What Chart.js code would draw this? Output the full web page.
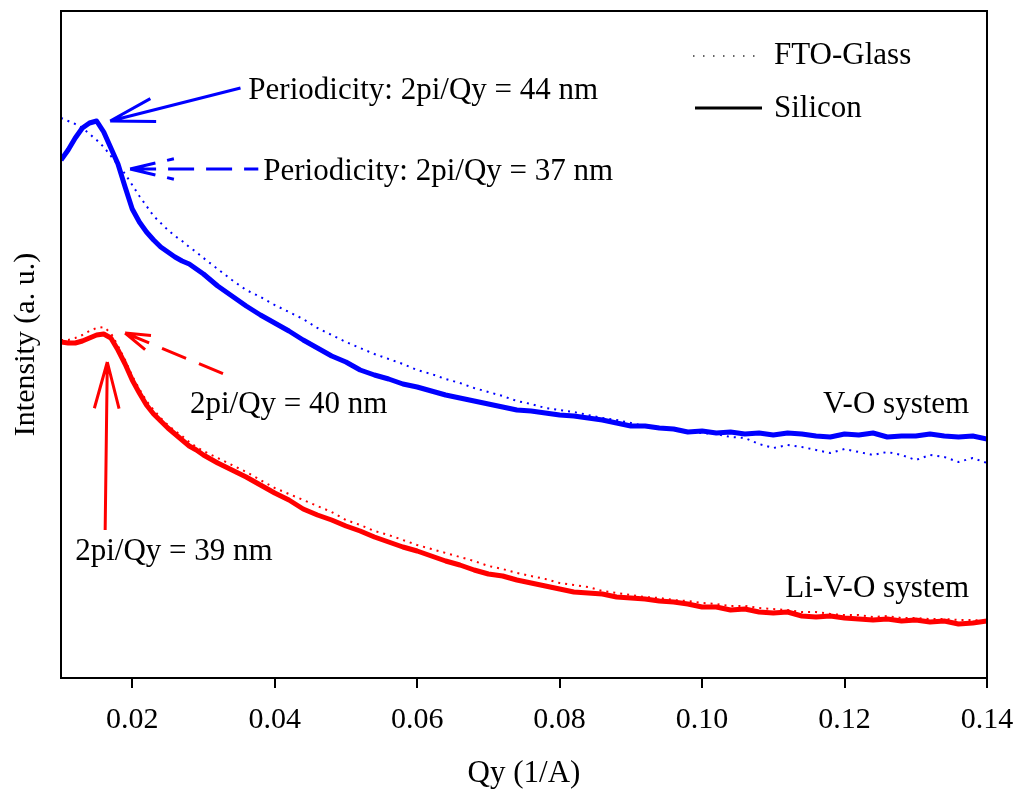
<!DOCTYPE html>
<html>
<head>
<meta charset="utf-8">
<title>Qy - V-O / Li-V-O</title>
<script src="https://cdn.jsdelivr.net/npm/chart.js@4.4.1/dist/chart.umd.min.js"></script>
<style>
  html, body { margin: 0; padding: 0; background: #fff; }
  #graphe { display: block; }
</style>
</head>
<body>
<canvas id="graphe" width="1017" height="792"></canvas>
<script>
//-------------------------------------Données-------------------------------------
const qy = [
  0.010, 0.011, 0.012, 0.013, 0.014, 0.015, 0.016, 0.017, 0.018, 0.019, 0.020,
  0.021, 0.022, 0.023, 0.024, 0.025, 0.026, 0.027, 0.028, 0.029, 0.030,
  0.032, 0.034, 0.036, 0.038, 0.040, 0.042, 0.044, 0.046, 0.048, 0.050,
  0.052, 0.054, 0.056, 0.058, 0.060, 0.062, 0.064, 0.066, 0.068, 0.070,
  0.072, 0.074, 0.076, 0.078, 0.080, 0.082, 0.084, 0.086, 0.088, 0.090,
  0.092, 0.094, 0.096, 0.098, 0.100, 0.102, 0.104, 0.106, 0.108, 0.110,
  0.112, 0.114, 0.116, 0.118, 0.120, 0.122, 0.124, 0.126, 0.128, 0.130,
  0.132, 0.134, 0.136, 0.138, 0.140
];

// V-O system
const voSilicon = [
  518, 528, 540, 550, 555, 557, 546, 530, 514, 491, 469,
  456, 446, 438, 431, 426, 421, 417, 414, 409, 404,
  392, 382, 372, 363, 355, 347, 338, 330, 322, 316,
  308, 303, 299, 294, 291, 287, 283, 280, 277, 274,
  271, 268, 267, 265, 263, 262, 260, 258, 255, 252,
  252, 250, 249, 246, 247, 245, 246, 244, 245, 243,
  245, 244, 242, 241, 244, 243, 245, 241, 242, 242,
  244, 242, 241, 242, 239
];
const voFto = [
  560, 557, 554, 550, 544, 538, 531, 522, 513, 504, 493,
  482, 472, 462, 455, 448, 442, 437, 431, 426, 420,
  409, 398, 388, 381, 373, 366, 359, 350, 343, 336,
  330, 324, 319, 314, 308, 304, 299, 295, 290, 286,
  282, 277, 274, 270, 268, 266, 263, 260, 258, 255,
  252, 250, 248, 246, 245, 244, 241, 240, 234, 230,
  233, 231, 228, 225, 229, 226, 223, 226, 223, 218,
  223, 221, 216, 220, 215
];

// Li-V-O system
const livoSilicon = [
  336, 335, 335, 337, 340, 343, 344, 340, 328, 314, 298,
  285, 273, 264, 257, 250, 244, 238, 232, 228, 223,
  215, 208, 201, 193, 185, 178, 169, 163, 158, 152,
  147, 141, 136, 131, 127, 122, 117, 113, 108, 104,
  102, 98, 95, 92, 89, 86, 85, 84, 81, 80,
  79, 77, 76, 74, 71, 71, 68, 69, 66, 65,
  66, 62, 61, 62, 60, 59, 58, 59, 57, 58,
  56, 57, 54, 55, 57
];
const livoFto = [
  338, 338, 340, 343, 347, 350, 351, 345, 332, 318, 302,
  289, 277, 268, 260, 253, 247, 242, 236, 231, 227,
  220, 213, 206, 198, 190, 184, 178, 172, 166, 158,
  153, 147, 143, 138, 133, 129, 125, 121, 117, 112,
  109, 105, 102, 99, 95, 93, 91, 87, 85, 83,
  81, 80, 78, 77, 75, 74, 72, 72, 70, 69,
  68, 66, 66, 64, 63, 63, 61, 62, 60, 60,
  59, 59, 58, 58, 57
];

const xTicks = [0.02, 0.04, 0.06, 0.08, 0.10, 0.12, 0.14];

//-------------------------------------Annotations-------------------------------------
const POLICE = "31px 'Liberation Serif', 'Times New Roman', serif";
const BLEU = '#0000ff';
const ROUGE = '#ff0000';

// flèches : de (queue) -> vers (pointe), en unités des axes
const fleches = [
  { de: [0.0352, 590], vers: [0.0169, 557], couleur: BLEU, tirets: [], pointe: 46, angle: 0.26 },
  { de: [0.0377, 509], vers: [0.0197, 509], couleur: BLEU, tirets: [26, 12], pointe: 45, angle: 0.23 },
  { de: [0.0342, 300], vers: [0.0190, 345], couleur: ROUGE, tirets: [26, 14], pointe: 40, angle: 0.3 },
  { de: [0.0162, 148], vers: [0.0165, 316], couleur: ROUGE, tirets: [], pointe: 48, angle: 0.26 }
];

const textes = [
  { texte: 'Periodicity: 2pi/Qy = 44 nm', x: 0.0363, y: 587, align: 'left' },
  { texte: 'Periodicity: 2pi/Qy = 37 nm', x: 0.0384, y: 506, align: 'left' },
  { texte: '2pi/Qy = 40 nm', x: 0.0281, y: 273, align: 'left' },
  { texte: '2pi/Qy = 39 nm', x: 0.0120, y: 126, align: 'left' },
  { texte: 'V-O system', x: 0.1375, y: 273, align: 'right' },
  { texte: 'Li-V-O system', x: 0.1375, y: 89, align: 'right' }
];

function dessinerFleche(ctx, x0, y0, x1, y1, f) {
  const ang = Math.atan2(y0 - y1, x0 - x1);
  ctx.strokeStyle = f.couleur;
  ctx.lineWidth = 3;
  ctx.lineCap = 'butt';
  ctx.setLineDash(f.tirets);
  ctx.beginPath();
  ctx.moveTo(x1, y1);
  ctx.lineTo(x0, y0);
  for (const s of [-1, 1]) {
    ctx.moveTo(x1, y1);
    ctx.lineTo(x1 + f.pointe * Math.cos(ang + s * f.angle), y1 + f.pointe * Math.sin(ang + s * f.angle));
  }
  ctx.stroke();
  ctx.setLineDash([]);
}

const annotations = {
  id: 'annotations',
  afterDatasetsDraw(chart) {
    const { ctx, chartArea: a, scales: { x, y } } = chart;
    ctx.save();

    // cadre
    ctx.strokeStyle = '#000';
    ctx.lineWidth = 2;
    ctx.strokeRect(a.left, a.top, a.right - a.left, a.bottom - a.top);

    fleches.forEach(f => dessinerFleche(ctx,
      x.getPixelForValue(f.de[0]), y.getPixelForValue(f.de[1]),
      x.getPixelForValue(f.vers[0]), y.getPixelForValue(f.vers[1]), f));

    ctx.font = POLICE;
    ctx.fillStyle = '#000';
    ctx.textBaseline = 'middle';
    textes.forEach(t => {
      ctx.textAlign = t.align;
      ctx.fillText(t.texte, x.getPixelForValue(t.x), y.getPixelForValue(t.y));
    });

    // légende
    ctx.textAlign = 'left';
    ctx.strokeStyle = '#333';
    ctx.lineWidth = 1.5;
    ctx.setLineDash([1.5, 8.5]);
    ctx.beginPath();
    ctx.moveTo(a.left + 632, a.top + 45);
    ctx.lineTo(a.left + 697, a.top + 45);
    ctx.stroke();
    ctx.setLineDash([]);
    ctx.strokeStyle = '#000';
    ctx.lineWidth = 3;
    ctx.beginPath();
    ctx.moveTo(a.left + 634, a.top + 97);
    ctx.lineTo(a.left + 701, a.top + 97);
    ctx.stroke();
    ctx.fillText('FTO-Glass', a.left + 713, a.top + 45);
    ctx.fillText('Silicon', a.left + 713, a.top + 98);

    ctx.restore();
  }
};

//-------------------------------------Graphique-------------------------------------
const points = valeurs => qy.map((q, i) => ({ x: q, y: valeurs[i] }));
const famille = "'Liberation Serif', 'Times New Roman', serif";

new Chart(document.getElementById('graphe').getContext('2d'), {
  type: 'line',
  data: {
    datasets: [
      { label: 'V-O FTO-Glass', data: points(voFto), borderColor: BLEU, borderWidth: 2, borderDash: [2, 5], order: 2 },
      { label: 'V-O Silicon', data: points(voSilicon), borderColor: BLEU, borderWidth: 5, order: 1 },
      { label: 'Li-V-O FTO-Glass', data: points(livoFto), borderColor: ROUGE, borderWidth: 2, borderDash: [2, 5], order: 4 },
      { label: 'Li-V-O Silicon', data: points(livoSilicon), borderColor: ROUGE, borderWidth: 5, order: 3 }
    ]
  },
  options: {
    responsive: false,
    animation: false,
    layout: { padding: { top: 11, right: 30, left: 0, bottom: 0 } },
    elements: { point: { radius: 0 }, line: { tension: 0, borderJoinStyle: 'round' } },
    plugins: { legend: { display: false }, tooltip: { enabled: false } },
    scales: {
      x: {
        type: 'linear',
        min: 0.01,
        max: 0.14,
        afterBuildTicks: s => { s.ticks = xTicks.map(v => ({ value: v })); },
        afterFit: s => { s.height = 114; s.paddingLeft = 0; s.paddingRight = 0; },
        grid: { drawOnChartArea: false, drawTicks: true, tickLength: 10, color: '#000', lineWidth: 2 },
        border: { display: false },
        ticks: { color: '#000', font: { family: famille, size: 30 }, padding: 14, maxRotation: 0, callback: v => v.toFixed(2) },
        title: { display: true, text: 'Qy (1/A)', color: '#000', font: { family: famille, size: 31 }, padding: { top: 0, bottom: 0 } }
      },
      y: {
        min: 0,
        max: 667,
        afterFit: s => { s.width = 61; },
        grid: { display: false },
        border: { display: false },
        ticks: { display: false },
        title: { display: true, text: 'Intensity (a. u.)', color: '#000', font: { family: famille, size: 30 }, padding: { top: 8, bottom: 0 } }
      }
    }
  },
  plugins: [annotations]
});
</script>
</body>
</html>
